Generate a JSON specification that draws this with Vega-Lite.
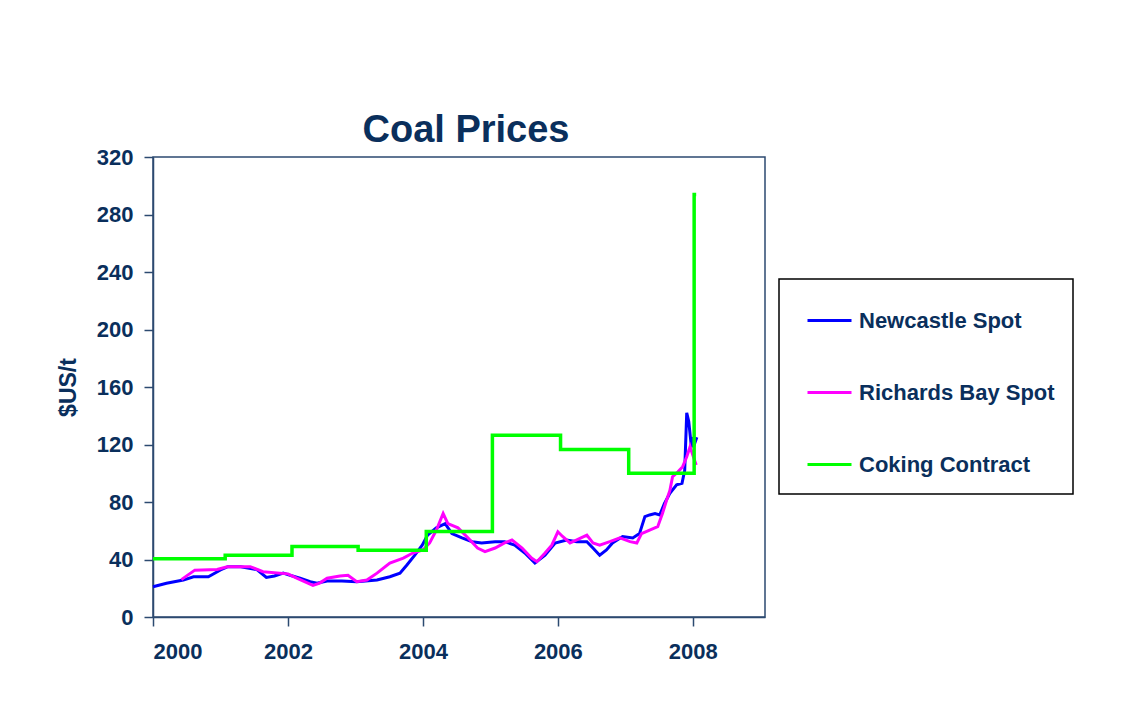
{
  "$schema": "https://vega.github.io/schema/vega-lite/v6.json",
  "width": 612,
  "height": 460,
  "autosize": {"type": "none"},
  "padding": {"left": 153, "top": 157, "right": 366, "bottom": 96},
  "background": "white",
  "title": {
    "text": "Coal Prices",
    "fontSize": 38,
    "font": "Liberation Sans",
    "fontWeight": "bold",
    "color": "#0a2f5c",
    "anchor": "middle",
    "dx": 7,
    "offset": -4
  },
  "datasets": {
    "spot": [
      {"series": "Newcastle Spot", "year": 2000.0, "price": 21},
      {"series": "Newcastle Spot", "year": 2000.2, "price": 23.5},
      {"series": "Newcastle Spot", "year": 2000.45, "price": 25.7},
      {"series": "Newcastle Spot", "year": 2000.6, "price": 28},
      {"series": "Newcastle Spot", "year": 2000.82, "price": 28},
      {"series": "Newcastle Spot", "year": 2001.0, "price": 32.7},
      {"series": "Newcastle Spot", "year": 2001.11, "price": 35},
      {"series": "Newcastle Spot", "year": 2001.3, "price": 35},
      {"series": "Newcastle Spot", "year": 2001.54, "price": 33},
      {"series": "Newcastle Spot", "year": 2001.68, "price": 27.5},
      {"series": "Newcastle Spot", "year": 2001.8, "price": 28.5},
      {"series": "Newcastle Spot", "year": 2001.93, "price": 30.5},
      {"series": "Newcastle Spot", "year": 2002.03, "price": 29},
      {"series": "Newcastle Spot", "year": 2002.18, "price": 27},
      {"series": "Newcastle Spot", "year": 2002.33, "price": 24.6},
      {"series": "Newcastle Spot", "year": 2002.43, "price": 23.5},
      {"series": "Newcastle Spot", "year": 2002.58, "price": 25},
      {"series": "Newcastle Spot", "year": 2002.8, "price": 25},
      {"series": "Newcastle Spot", "year": 2003.02, "price": 24.6},
      {"series": "Newcastle Spot", "year": 2003.32, "price": 25.7},
      {"series": "Newcastle Spot", "year": 2003.51, "price": 28},
      {"series": "Newcastle Spot", "year": 2003.66, "price": 30.5},
      {"series": "Newcastle Spot", "year": 2003.76, "price": 36},
      {"series": "Newcastle Spot", "year": 2003.88, "price": 43},
      {"series": "Newcastle Spot", "year": 2003.99, "price": 50},
      {"series": "Newcastle Spot", "year": 2004.07, "price": 57},
      {"series": "Newcastle Spot", "year": 2004.2, "price": 62},
      {"series": "Newcastle Spot", "year": 2004.33, "price": 65},
      {"series": "Newcastle Spot", "year": 2004.43, "price": 58},
      {"series": "Newcastle Spot", "year": 2004.58, "price": 55},
      {"series": "Newcastle Spot", "year": 2004.73, "price": 52.4},
      {"series": "Newcastle Spot", "year": 2004.87, "price": 51.5},
      {"series": "Newcastle Spot", "year": 2005.07, "price": 52.4},
      {"series": "Newcastle Spot", "year": 2005.21, "price": 52.4},
      {"series": "Newcastle Spot", "year": 2005.36, "price": 50},
      {"series": "Newcastle Spot", "year": 2005.51, "price": 44.5},
      {"series": "Newcastle Spot", "year": 2005.66, "price": 37.5},
      {"series": "Newcastle Spot", "year": 2005.81, "price": 43},
      {"series": "Newcastle Spot", "year": 2005.96, "price": 51.5},
      {"series": "Newcastle Spot", "year": 2006.13, "price": 53.6},
      {"series": "Newcastle Spot", "year": 2006.28, "price": 52.4},
      {"series": "Newcastle Spot", "year": 2006.43, "price": 52.4},
      {"series": "Newcastle Spot", "year": 2006.52, "price": 48},
      {"series": "Newcastle Spot", "year": 2006.62, "price": 43},
      {"series": "Newcastle Spot", "year": 2006.72, "price": 46.6},
      {"series": "Newcastle Spot", "year": 2006.81, "price": 51.5},
      {"series": "Newcastle Spot", "year": 2006.96, "price": 56},
      {"series": "Newcastle Spot", "year": 2007.11, "price": 55},
      {"series": "Newcastle Spot", "year": 2007.21, "price": 58},
      {"series": "Newcastle Spot", "year": 2007.29, "price": 69.8},
      {"series": "Newcastle Spot", "year": 2007.36, "price": 71},
      {"series": "Newcastle Spot", "year": 2007.44, "price": 72},
      {"series": "Newcastle Spot", "year": 2007.51, "price": 71},
      {"series": "Newcastle Spot", "year": 2007.58, "price": 79},
      {"series": "Newcastle Spot", "year": 2007.66, "price": 86},
      {"series": "Newcastle Spot", "year": 2007.76, "price": 92},
      {"series": "Newcastle Spot", "year": 2007.84, "price": 93},
      {"series": "Newcastle Spot", "year": 2007.88, "price": 102},
      {"series": "Newcastle Spot", "year": 2007.91, "price": 142},
      {"series": "Newcastle Spot", "year": 2007.94, "price": 136},
      {"series": "Newcastle Spot", "year": 2007.98, "price": 118},
      {"series": "Newcastle Spot", "year": 2008.0, "price": 125},
      {"series": "Newcastle Spot", "year": 2008.03, "price": 121},
      {"series": "Newcastle Spot", "year": 2008.06, "price": 125},
      {"series": "Richards Bay Spot", "year": 2000.42, "price": 26},
      {"series": "Richards Bay Spot", "year": 2000.62, "price": 32.6},
      {"series": "Richards Bay Spot", "year": 2000.95, "price": 33},
      {"series": "Richards Bay Spot", "year": 2001.1, "price": 35},
      {"series": "Richards Bay Spot", "year": 2001.44, "price": 35},
      {"series": "Richards Bay Spot", "year": 2001.63, "price": 31.5},
      {"series": "Richards Bay Spot", "year": 2002.0, "price": 30},
      {"series": "Richards Bay Spot", "year": 2002.13, "price": 27},
      {"series": "Richards Bay Spot", "year": 2002.37, "price": 22},
      {"series": "Richards Bay Spot", "year": 2002.47, "price": 23.6},
      {"series": "Richards Bay Spot", "year": 2002.58, "price": 27},
      {"series": "Richards Bay Spot", "year": 2002.77, "price": 28.5},
      {"series": "Richards Bay Spot", "year": 2002.89, "price": 29},
      {"series": "Richards Bay Spot", "year": 2003.02, "price": 24.6},
      {"series": "Richards Bay Spot", "year": 2003.17, "price": 25.7},
      {"series": "Richards Bay Spot", "year": 2003.32, "price": 30.5},
      {"series": "Richards Bay Spot", "year": 2003.51, "price": 37.5},
      {"series": "Richards Bay Spot", "year": 2003.71, "price": 41},
      {"series": "Richards Bay Spot", "year": 2003.85, "price": 44.5},
      {"series": "Richards Bay Spot", "year": 2004.0, "price": 46.6},
      {"series": "Richards Bay Spot", "year": 2004.1, "price": 51.5},
      {"series": "Richards Bay Spot", "year": 2004.2, "price": 60.5},
      {"series": "Richards Bay Spot", "year": 2004.3, "price": 72},
      {"series": "Richards Bay Spot", "year": 2004.37, "price": 65},
      {"series": "Richards Bay Spot", "year": 2004.52, "price": 62},
      {"series": "Richards Bay Spot", "year": 2004.67, "price": 55},
      {"series": "Richards Bay Spot", "year": 2004.81, "price": 48},
      {"series": "Richards Bay Spot", "year": 2004.92, "price": 45.5},
      {"series": "Richards Bay Spot", "year": 2005.07, "price": 48},
      {"series": "Richards Bay Spot", "year": 2005.21, "price": 51.5},
      {"series": "Richards Bay Spot", "year": 2005.32, "price": 53.6},
      {"series": "Richards Bay Spot", "year": 2005.47, "price": 48},
      {"series": "Richards Bay Spot", "year": 2005.61, "price": 41},
      {"series": "Richards Bay Spot", "year": 2005.69, "price": 38.5},
      {"series": "Richards Bay Spot", "year": 2005.81, "price": 44.5},
      {"series": "Richards Bay Spot", "year": 2005.91, "price": 50},
      {"series": "Richards Bay Spot", "year": 2006.0, "price": 59.3},
      {"series": "Richards Bay Spot", "year": 2006.07, "price": 56},
      {"series": "Richards Bay Spot", "year": 2006.18, "price": 51.5},
      {"series": "Richards Bay Spot", "year": 2006.28, "price": 53.6},
      {"series": "Richards Bay Spot", "year": 2006.43, "price": 57},
      {"series": "Richards Bay Spot", "year": 2006.52, "price": 51.5},
      {"series": "Richards Bay Spot", "year": 2006.62, "price": 50},
      {"series": "Richards Bay Spot", "year": 2006.77, "price": 52.4},
      {"series": "Richards Bay Spot", "year": 2006.92, "price": 55},
      {"series": "Richards Bay Spot", "year": 2007.07, "price": 52.4},
      {"series": "Richards Bay Spot", "year": 2007.17, "price": 51.5},
      {"series": "Richards Bay Spot", "year": 2007.24, "price": 58},
      {"series": "Richards Bay Spot", "year": 2007.36, "price": 60.5},
      {"series": "Richards Bay Spot", "year": 2007.48, "price": 62.8},
      {"series": "Richards Bay Spot", "year": 2007.55, "price": 72},
      {"series": "Richards Bay Spot", "year": 2007.61, "price": 81},
      {"series": "Richards Bay Spot", "year": 2007.66, "price": 88},
      {"series": "Richards Bay Spot", "year": 2007.7, "price": 97.6},
      {"series": "Richards Bay Spot", "year": 2007.78, "price": 101},
      {"series": "Richards Bay Spot", "year": 2007.85, "price": 104.6},
      {"series": "Richards Bay Spot", "year": 2007.91, "price": 111.5},
      {"series": "Richards Bay Spot", "year": 2007.96, "price": 118.5},
      {"series": "Richards Bay Spot", "year": 2007.99, "price": 114},
      {"series": "Richards Bay Spot", "year": 2008.05, "price": 105.7}
    ],
    "coking": [
      {"series": "Coking Contract", "year": 2000.0, "price": 40.5},
      {"series": "Coking Contract", "year": 2001.07, "price": 43},
      {"series": "Coking Contract", "year": 2002.06, "price": 49},
      {"series": "Coking Contract", "year": 2003.04, "price": 46.5},
      {"series": "Coking Contract", "year": 2004.05, "price": 59.5},
      {"series": "Coking Contract", "year": 2005.03, "price": 126.5},
      {"series": "Coking Contract", "year": 2006.04, "price": 116.5},
      {"series": "Coking Contract", "year": 2007.05, "price": 100},
      {"series": "Coking Contract", "year": 2008.02, "price": 294},
      {"series": "Coking Contract", "year": 2008.05, "price": 294}
    ]
  },
  "encoding": {
    "x": {
      "field": "year",
      "type": "quantitative",
      "scale": {"domain": [2000, 2009.07], "nice": false, "zero": false},
      "axis": {"values": [2000, 2002, 2004, 2006, 2008], "format": "d", "title": null, "labelPadding": 15}
    },
    "y": {
      "field": "price",
      "type": "quantitative",
      "scale": {"domain": [0, 320], "nice": false},
      "axis": {"values": [0, 40, 80, 120, 160, 200, 240, 280, 320], "title": "$US/t"}
    },
    "color": {
      "field": "series",
      "type": "nominal",
      "sort": null,
      "scale": {
        "domain": ["Newcastle Spot", "Richards Bay Spot", "Coking Contract"],
        "range": ["#0000ff", "#ff00ff", "#00ff00"]
      },
      "legend": {
        "orient": "none",
        "legendX": 626,
        "legendY": 122,
        "title": null
      }
    }
  },
  "layer": [
    {
      "data": {"name": "spot"},
      "mark": {"type": "line", "strokeWidth": 3}
    },
    {
      "data": {"name": "coking"},
      "mark": {"type": "line", "strokeWidth": 3.5, "interpolate": "step-after"}
    }
  ],
  "config": {
    "view": {"stroke": "#2c4a70", "strokeWidth": 1.5},
    "axis": {
      "grid": false,
      "domainColor": "#2c4a70",
      "domainWidth": 1.5,
      "tickColor": "#2c4a70",
      "tickWidth": 1.5,
      "tickSize": 9,
      "labelFont": "Liberation Sans",
      "labelFontWeight": "bold",
      "labelFontSize": 22,
      "labelColor": "#0a2f5c",
      "labelPadding": 11,
      "titleFont": "Liberation Sans",
      "titleFontWeight": "bold",
      "titleFontSize": 23,
      "titleColor": "#0a2f5c",
      "titlePadding": 16
    },
    "legend": {
      "strokeColor": "#000000",
      "strokeWidth": 1.5,
      "padding": 18,
      "symbolOffset": 9,
      "symbolType": "stroke",
      "symbolSize": 1936,
      "symbolStrokeWidth": 3,
      "labelFont": "Liberation Sans",
      "labelFontWeight": "bold",
      "labelFontSize": 22,
      "labelColor": "#0a2f5c",
      "labelOffset": 6,
      "labelLimit": 400,
      "rowPadding": 37
    }
  }
}
